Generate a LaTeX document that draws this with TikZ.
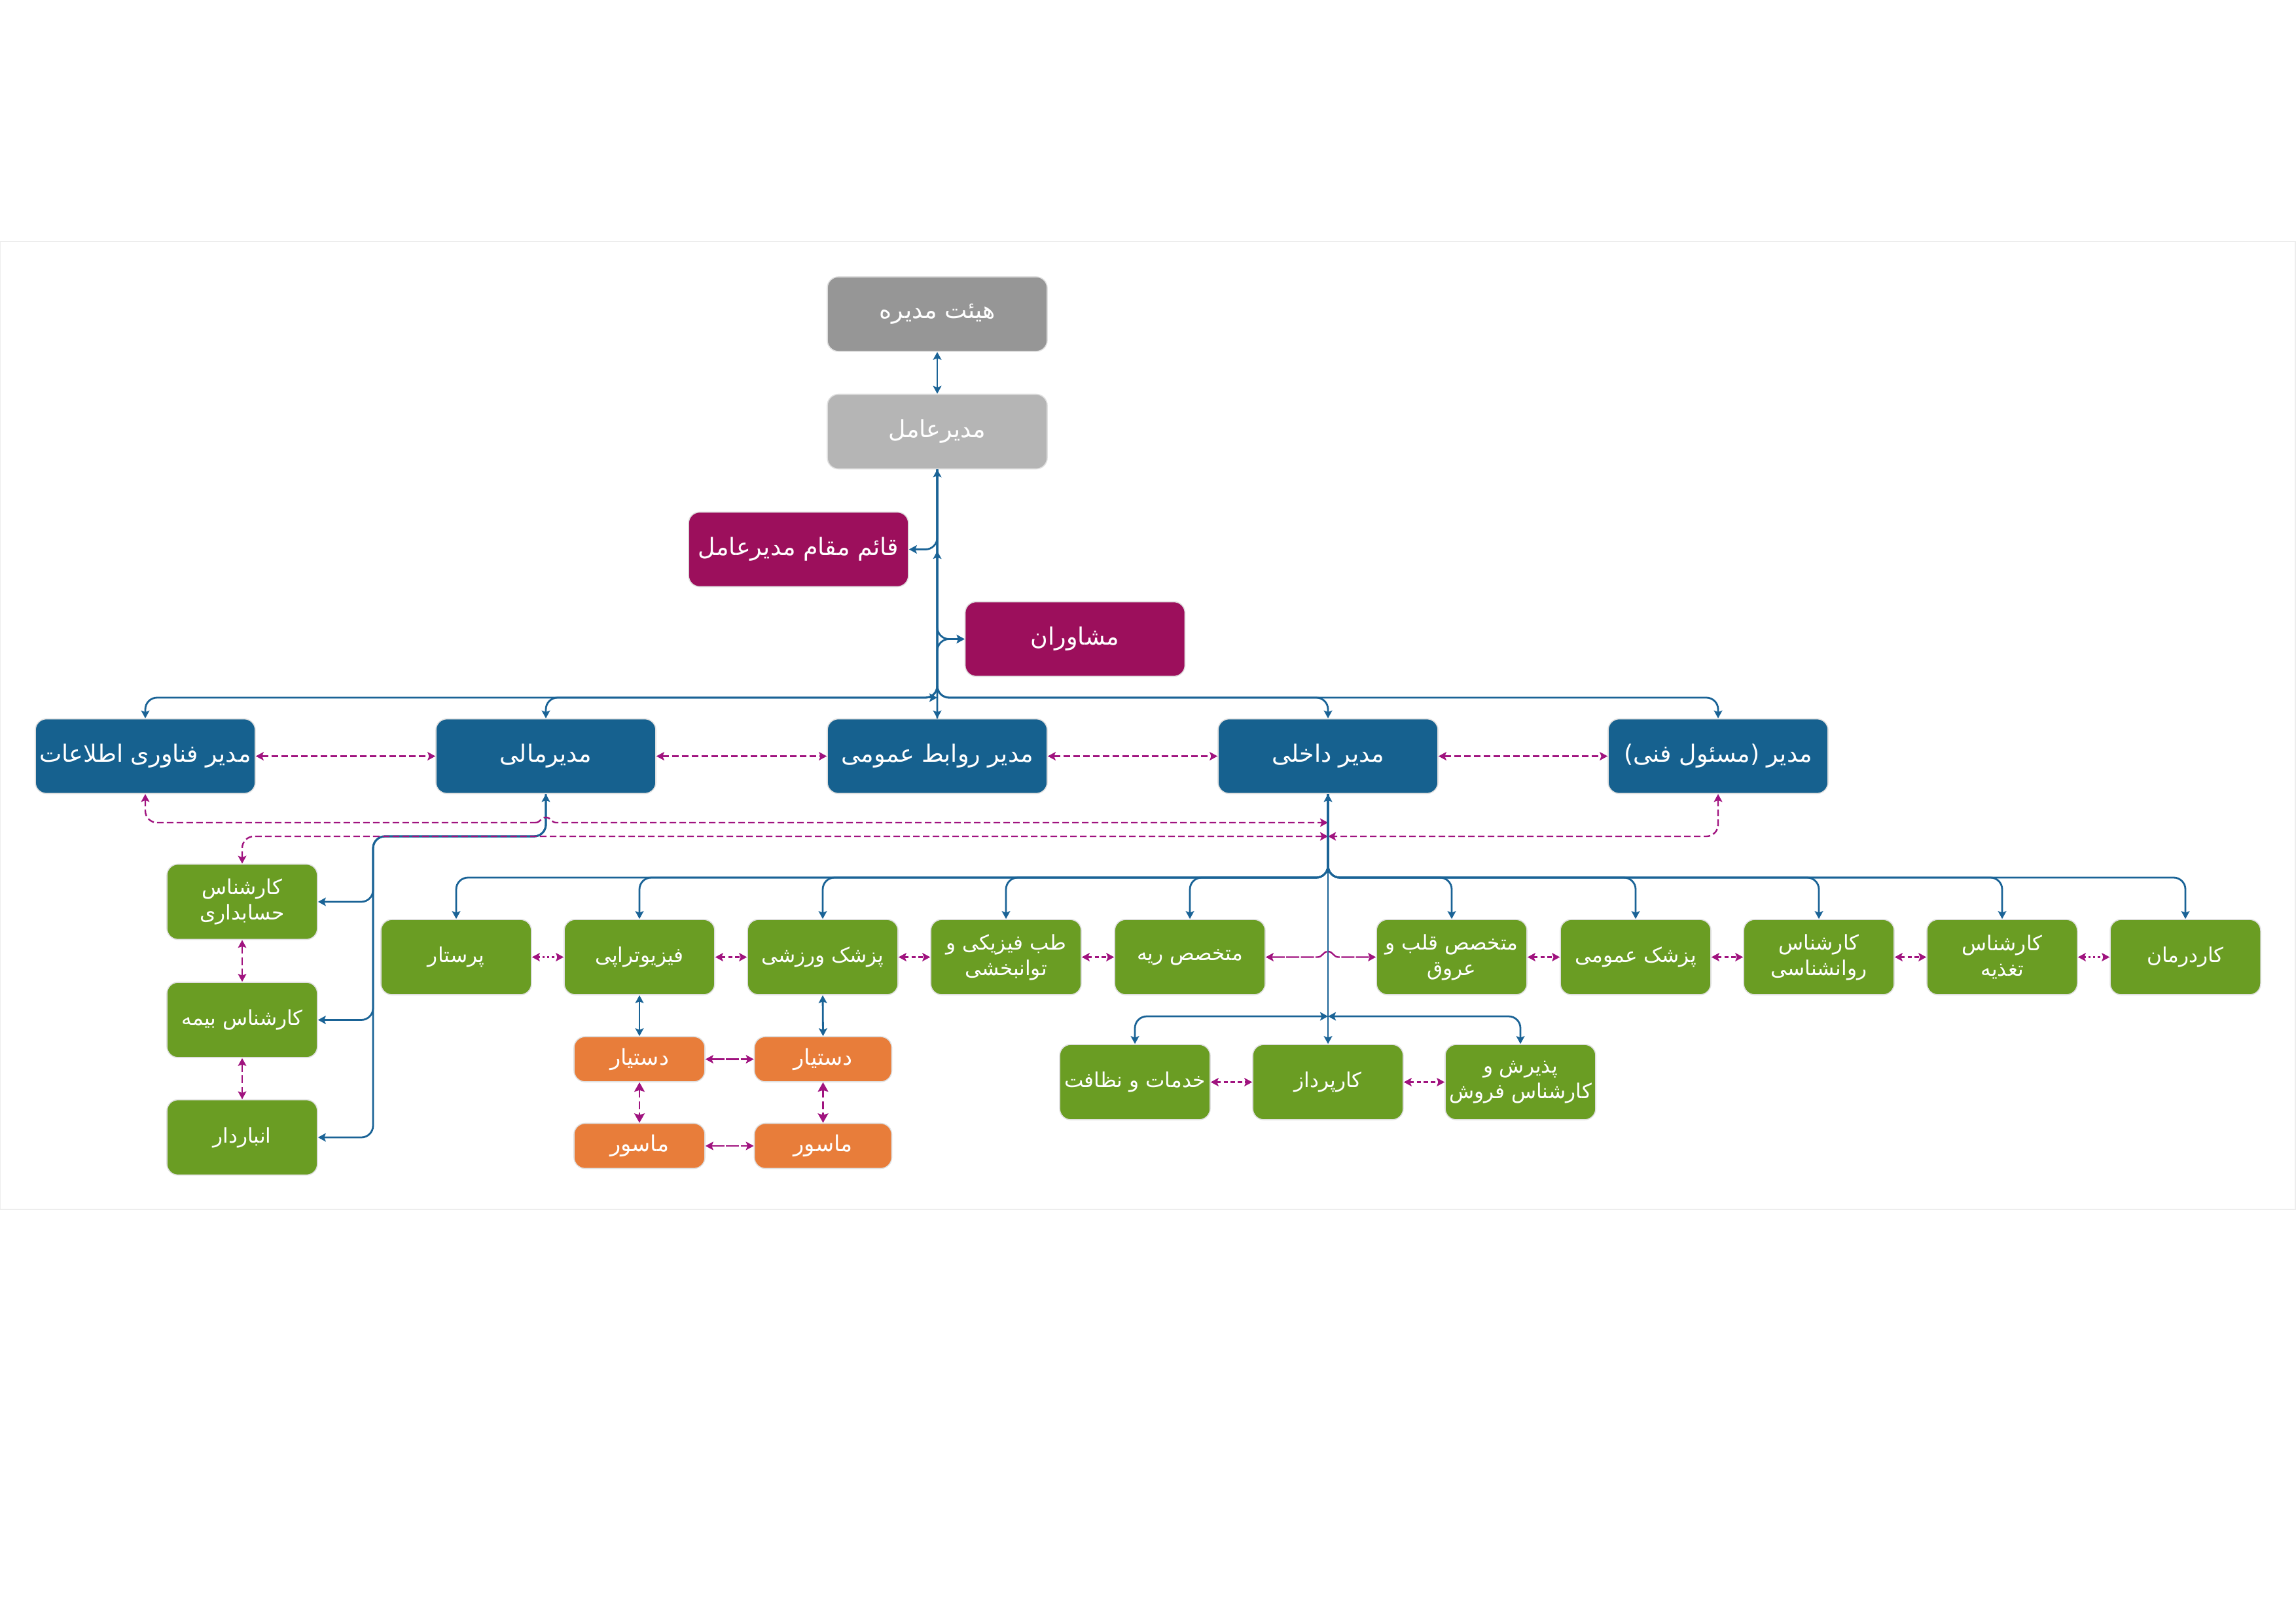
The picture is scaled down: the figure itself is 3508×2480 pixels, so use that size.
\documentclass[tikz,border=0pt]{standalone}
\usepackage{fontspec}
\newfontfamily\fafont[Script=Arabic]{DejaVu Sans}
\TeXXeTstate=1
\usetikzlibrary{arrows.meta}
\definecolor{cblue}{HTML}{16618F}
\definecolor{cline}{HTML}{1A6396}
\definecolor{cmagbox}{HTML}{9C0F5C}
\definecolor{cmag}{HTML}{A0137F}
\definecolor{cboard}{HTML}{969696}
\definecolor{cceo}{HTML}{B5B5B5}
\definecolor{cgreen}{HTML}{6A9D23}
\definecolor{corange}{HTML}{E87D3A}
\newcommand{\fa}[1]{\beginR #1\endR}
\begin{document}
\begin{tikzpicture}[x=0.25pt,y=-0.25pt,
  >={Stealth[length=3pt,width=3.2pt,inset=0.6pt]},
  box/.style={rounded corners=4.25pt, draw=black!12, line width=0.4pt, text=white, align=center, inner sep=1pt,
    font=\fafont\fontsize{9.1pt}{11pt}\selectfont, minimum width=84pt, minimum height=28.5pt},
  gbox/.style={box, fill=cgreen, minimum width=57.5pt, minimum height=28.75pt, font=\fafont\fontsize{7.8pt}{9.75pt}\selectfont},
  obox/.style={box, fill=corange, minimum width=50pt, minimum height=17.25pt, font=\fafont\fontsize{8.4pt}{9.8pt}\selectfont},
  bl/.style={draw=cline, line width=0.7pt},
  mg/.style={draw=cmag, line width=0.6pt},
  dsh/.style={dash pattern=on 2.5pt off 1.25pt},
  sdsh/.style={dash pattern=on 1.6pt off 1.1pt},
  ldsh/.style={dash pattern=on 3pt off 1.4pt},
  dot/.style={dash pattern=on 0.8pt off 1pt},
  dd/.style={dash pattern=on 5pt off 0.6pt},
  big/.style={>={Stealth[length=3.6pt,width=4pt,inset=0.6pt]}},
  rc/.style={rounded corners=4.5pt}]
\useasboundingbox (0,0) rectangle (3508,2480);
\draw[draw=black!7, line width=0.6pt] (0,369) rectangle (3507,1848);

% top
\node[box,fill=cboard] (board) at (1432,480) {\fa{هیئت مدیره}};
\node[box,fill=cceo] (ceo) at (1432,659.5) {\fa{مدیرعامل}};
\node[box,fill=cmagbox] (deputy) at (1220,839.5) {\fa{قائم مقام مدیرعامل}};
\node[box,fill=cmagbox] (adv) at (1642.5,976.5) {\fa{مشاوران}};
% level 2
\node[box,fill=cblue] (it) at (222,1155.5) {\fa{مدیر فناوری اطلاعات}};
\node[box,fill=cblue] (fin) at (834,1155.5) {\fa{مدیرمالی}};
\node[box,fill=cblue] (pr) at (1432,1155.5) {\fa{مدیر روابط عمومی}};
\node[box,fill=cblue] (intl) at (2029,1155.5) {\fa{مدیر داخلی}};
\node[box,fill=cblue] (tech) at (2625,1155.5) {\fa{مدیر (مسئول فنی)}};
% left column
\node[gbox] (acc) at (370,1378) {\fa{کارشناس}\\\fa{حسابداری}};
\node[gbox] (ins) at (370,1558.5) {\fa{کارشناس بیمه}};
\node[gbox] (war) at (370,1738) {\fa{انباردار}};
% green row
\node[gbox] (nurse) at (697,1462.5) {\fa{پرستار}};
\node[gbox] (physio) at (977,1462.5) {\fa{فیزیوتراپی}};
\node[gbox] (sport) at (1257,1462.5) {\fa{پزشک ورزشی}};
\node[gbox] (tebb) at (1537,1462.5) {\fa{طب فیزیکی و}\\\fa{توانبخشی}};
\node[gbox] (riyeh) at (1818,1462.5) {\fa{متخصص ریه}};
\node[gbox] (ghalb) at (2218,1462.5) {\fa{متخصص قلب و}\\\fa{عروق}};
\node[gbox] (omumi) at (2499,1462.5) {\fa{پزشک عمومی}};
\node[gbox] (ravan) at (2779,1462.5) {\fa{کارشناس}\\\fa{روانشناسی}};
\node[gbox] (taghz) at (3059,1462.5) {\fa{کارشناس}\\\fa{تغذیه}};
\node[gbox] (kard) at (3339,1462.5) {\fa{کاردرمان}};
% bottom row
\node[gbox] (khad) at (1734,1653.5) {\fa{خدمات و نظافت}};
\node[gbox] (karp) at (2029,1653.5) {\fa{کارپرداز}};
\node[gbox] (paz) at (2323,1653.5) {\fa{پذیرش و}\\\fa{کارشناس فروش}};
% orange
\node[obox] (dast1) at (977,1618.5) {\fa{دستیار}};
\node[obox,minimum width=52.5pt] (dast2) at (1257.5,1618.5) {\fa{دستیار}};
\node[obox] (mas1) at (977,1751) {\fa{ماسور}};
\node[obox,minimum width=52.5pt] (mas2) at (1257.5,1751) {\fa{ماسور}};

% coordinates
\coordinate (busT) at (1432,1066);
\coordinate (busTL) at (1385,1066);
\coordinate (upTip) at (1432,842);
\coordinate (dITc) at (222,1257);
\coordinate (hopA) at (818,1257);
\coordinate (hopM) at (834,1249);
\coordinate (hopB) at (850,1257);
\coordinate (dIT) at (2029,1257);
\coordinate (dAc) at (2029,1278);
\coordinate (fv) at (570,1278);
\coordinate (busG) at (2029,1341);
\coordinate (busB) at (2029,1553);
\coordinate (hrA) at (2013,1462.5);
\coordinate (hrM) at (2029,1454);
\coordinate (hrB) at (2045,1462.5);

% top connectors
\draw[bl,<->] (board.south) -- (ceo.north);
\draw[bl,<->] (pr.north) -- (ceo.south);
\draw[bl,->,rc] (ceo.south) |- (deputy.east);
\draw[bl,->] (pr.north) -- (upTip);
\draw[bl,->,rc] (ceo.south) |- (adv.west);
\draw[bl,->,rc] (pr.north) |- (adv.west);
\foreach \b in {it,fin,intl,tech} \draw[bl,->,rc] (ceo.south) -- (busT) -| (\b.north);
\draw[bl,->] (busTL) -- (busT);

% level 2 dashed
\draw[mg,dsh,<->] (it.east) -- (fin.west);
\draw[mg,dsh,<->] (fin.east) -- (pr.west);
\draw[mg,dsh,<->] (pr.east) -- (intl.west);
\draw[mg,dsh,<->] (intl.east) -- (tech.west);

% finance branch
\draw[bl,<->,rc] (fin.south) |- (fv) |- (acc.east);
\draw[bl,->,rc] (fin.south) |- (fv) |- (ins.east);
\draw[bl,->,rc] (fin.south) |- (fv) |- (war.east);

% long dashed lines to internal manager
\draw[mg,dsh,<-,rc] (it.south) -- (dITc) -- (hopA);
\draw[mg,dsh,->] (hopA) .. controls (826,1257) and (826,1249) .. (hopM) .. controls (842,1249) and (842,1257) .. (hopB) -- (dIT);
\draw[mg,dsh,<->,rc] (acc.north) |- (dAc);
\draw[mg,dsh,<->,rc] (tech.south) |- (dAc);

% internal manager tree
\draw[bl,<->] (intl.south) -- (karp.north);
\foreach \b in {nurse,physio,sport,tebb,riyeh,ghalb,omumi,ravan,taghz,kard} \draw[bl,->,rc] (intl.south) -- (busG) -| (\b.north);
\draw[bl,<->,rc] (khad.north) |- (busB);
\draw[bl,<->,rc] (paz.north) |- (busB);

% green row links
\draw[mg,dot,<->] (nurse.east) -- (physio.west);
\draw[mg,sdsh,<->] (physio.east) -- (sport.west);
\draw[mg,sdsh,<->] (sport.east) -- (tebb.west);
\draw[mg,sdsh,<->] (tebb.east) -- (riyeh.west);
\draw[mg,dd,<->] (riyeh.east) -- (hrA) .. controls (2021,1462.5) and (2021,1454) .. (hrM) .. controls (2037,1454) and (2037,1462.5) .. (hrB) -- (ghalb.west);
\draw[mg,sdsh,<->] (ghalb.east) -- (omumi.west);
\draw[mg,sdsh,<->] (omumi.east) -- (ravan.west);
\draw[mg,sdsh,<->] (ravan.east) -- (taghz.west);
\draw[mg,dot,<->] (taghz.east) -- (kard.west);
\draw[mg,sdsh,<->] (khad.east) -- (karp.west);
\draw[mg,sdsh,<->] (karp.east) -- (paz.west);

% left column links
\draw[mg,ldsh,<->] (acc.south) -- (ins.north);
\draw[mg,ldsh,<->] (ins.south) -- (war.north);

% orange links
\draw[bl,<->] (physio.south) -- (dast1.north);
\draw[bl,<->] (sport.south) -- (dast2.north);
\draw[mg,ldsh,big,<->] (dast1.south) -- (mas1.north);
\draw[mg,ldsh,big,<->] (dast2.south) -- (mas2.north);
\draw[mg,dd,<->] (dast1.east) -- (dast2.west);
\draw[mg,dd,<->] (mas1.east) -- (mas2.west);
\end{tikzpicture}
\end{document}
